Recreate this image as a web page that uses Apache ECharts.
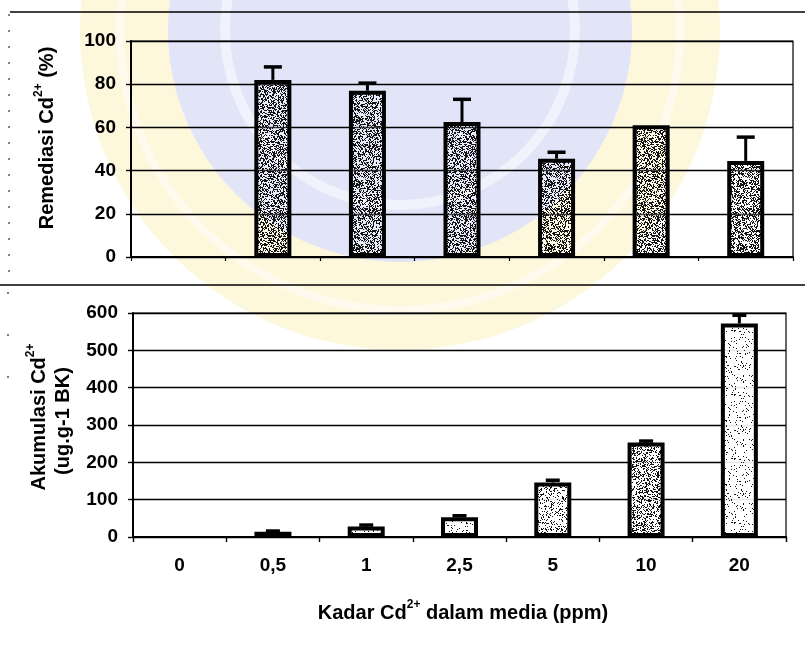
<!DOCTYPE html>
<html>
<head>
<meta charset="utf-8">
<script src="https://cdn.jsdelivr.net/npm/echarts@6/dist/echarts.min.js"></script>
<style>
  html, body { margin: 0; padding: 0; background: #ffffff; }
  #chart { width: 805px; height: 654px; }
</style>
</head>
<body>
<div id="chart"></div>
<script>
// Cd2+ concentration in the medium (ppm)
const categories = ['0', '0,5', '1', '2,5', '5', '10', '20'];

// Cd2+ remediation (%), mean and error
const remediasi = [null, 82, 77, 62.5, 45.5, 61, 44.5];
const remediasiErr = [null, 6, 3.5, 10.5, 3, 0, 11];

// Cd2+ accumulation (ug.g-1 BK), mean and error
const akumulasi = [null, 14, 28, 53, 146, 253, 572];
const akumulasiErr = [null, 2, 4, 4, 6, 4, 22];

// value axis ranges
const remediasiTicks = [0, 20, 40, 60, 80, 100];
const akumulasiTicks = [0, 100, 200, 300, 400, 500, 600];

const FONT = '"Liberation Sans", Arial, Helvetica, sans-serif';

// stippled texture used to fill the bars (deterministic hash, dark dots)
function speckle(density, base) {
  const n = 64;
  const c = document.createElement('canvas');
  c.width = n; c.height = n;
  const ctx = c.getContext('2d');
  ctx.fillStyle = base;
  ctx.fillRect(0, 0, n, n);
  ctx.fillStyle = '#151515';
  for (let y = 0; y < n; y++) {
    for (let x = 0; x < n; x++) {
      let h = Math.imul(x + 11, 374761393) + Math.imul(y + 7, 668265263);
      h = Math.imul(h ^ (h >>> 13), 1274126177);
      h ^= h >>> 16;
      if (((h >>> 0) % 1000) < density * 1000) ctx.fillRect(x, y, 1, 1);
    }
  }
  return { image: c, repeat: 'repeat' };
}

const topFill = speckle(0.46, 'rgba(255,255,255,0.25)');
const bottomDensity = [0, 0.07, 0.08, 0.09, 0.2, 0.36, 0.08];

function errorSeries(values, errs, xIdx, yIdx, capHalf, lw) {
  const data = categories
    .map((c, i) => [i, values[i], errs[i]])
    .filter(d => d[1] != null && d[2] > 0);
  return {
    type: 'custom',
    xAxisIndex: xIdx,
    yAxisIndex: yIdx,
    z: 5,
    silent: true,
    data: data,
    encode: { x: 0, y: 1 },
    renderItem: function (params, api) {
      const i = api.value(0), v = api.value(1), e = api.value(2);
      const base = api.coord([i, v]);
      const top = api.coord([i, v + e]);
      const st = { stroke: '#000', lineWidth: lw, fill: null };
      return {
        type: 'group',
        children: [
          { type: 'line', shape: { x1: base[0], y1: base[1], x2: top[0], y2: top[1] }, style: st },
          { type: 'line', shape: { x1: top[0] - capHalf, y1: top[1], x2: top[0] + capHalf, y2: top[1] }, style: { stroke: '#000', lineWidth: 3.5 } }
        ]
      };
    }
  };
}

const axisLabel = { color: '#000', fontFamily: FONT, fontWeight: 'bold', fontSize: 19 };
const gridLine = { show: true, lineStyle: { color: '#000', width: 1.4 } };
const axisLineStyle = { show: true, lineStyle: { color: '#000', width: 2 } };

const supRich = {
  a: { fontFamily: FONT, fontWeight: 'bold', fontSize: 20, color: '#000', lineHeight: 24, verticalAlign: 'bottom' },
  s: { fontFamily: FONT, fontWeight: 'bold', fontSize: 12, color: '#000', lineHeight: 24, verticalAlign: 'top' }
};

const chart = echarts.init(document.getElementById('chart'), null, { renderer: 'canvas' });

chart.setOption({
  animation: false,
  backgroundColor: '#ffffff',
  grid: [
    { left: 131, top: 41, width: 662, height: 216, show: true, borderColor: '#000', borderWidth: 1.2, backgroundColor: 'transparent' },
    { left: 133, top: 313, width: 653, height: 224, show: true, borderColor: '#000', borderWidth: 1.2, backgroundColor: 'transparent' }
  ],
  xAxis: [
    {
      type: 'category', gridIndex: 0, data: categories, boundaryGap: true,
      axisLine: axisLineStyle,
      axisTick: { show: true, interval: 0, length: 4, lineStyle: { color: '#000', width: 1.2 } },
      axisLabel: { show: false }
    },
    {
      type: 'category', gridIndex: 1, data: categories, boundaryGap: true,
      axisLine: axisLineStyle,
      axisTick: { show: true, interval: 0, length: 5, lineStyle: { color: '#000', width: 1.4 } },
      axisLabel: Object.assign({ margin: 19, interval: 0 }, axisLabel)
    }
  ],
  yAxis: [
    {
      type: 'value', gridIndex: 0,
      min: remediasiTicks[0], max: remediasiTicks[remediasiTicks.length - 1],
      interval: remediasiTicks[1] - remediasiTicks[0],
      axisLine: axisLineStyle,
      axisTick: { show: true, length: 5, lineStyle: { color: '#000', width: 1.4 } },
      splitLine: gridLine,
      axisLabel: Object.assign({ margin: 15 }, axisLabel)
    },
    {
      type: 'value', gridIndex: 1,
      min: akumulasiTicks[0], max: akumulasiTicks[akumulasiTicks.length - 1],
      interval: akumulasiTicks[1] - akumulasiTicks[0],
      axisLine: axisLineStyle,
      axisTick: { show: true, length: 5, lineStyle: { color: '#000', width: 1.4 } },
      splitLine: gridLine,
      axisLabel: Object.assign({ margin: 15 }, axisLabel)
    }
  ],
  series: [
    {
      type: 'bar', xAxisIndex: 0, yAxisIndex: 0,
      data: remediasi,
      barWidth: 37,
      z: 3,
      itemStyle: { color: topFill, borderColor: '#000', borderWidth: 4 }
    },
    {
      type: 'bar', xAxisIndex: 1, yAxisIndex: 1,
      data: akumulasi.map((v, i) => ({
        value: v,
        itemStyle: { color: speckle(bottomDensity[i], 'rgba(255,255,255,0.9)') }
      })),
      barWidth: 37,
      z: 3,
      itemStyle: { borderColor: '#000', borderWidth: 4 }
    },
    errorSeries(remediasi, remediasiErr, 0, 0, 9, 3),
    errorSeries(akumulasi, akumulasiErr, 1, 1, 7, 3)
  ],
  graphic: [
    // faint seal in the page background
    { type: 'circle', z: -100, silent: true, shape: { cx: 400, cy: 30, r: 320 }, style: { fill: '#fdf7dc' } },
    { type: 'circle', z: -99, silent: true, shape: { cx: 400, cy: 30, r: 232 }, style: { fill: '#e2e4f8' } },
    { type: 'circle', z: -98, silent: true, shape: { cx: 400, cy: 30, r: 175 }, style: { fill: 'none', stroke: 'rgba(255,255,255,0.5)', lineWidth: 10 } },
    { type: 'circle', z: -98, silent: true, shape: { cx: 400, cy: 30, r: 280 }, style: { fill: 'none', stroke: 'rgba(255,255,255,0.5)', lineWidth: 8 } },

    // chart-area frame lines
    { type: 'line', z: 1, silent: true, shape: { x1: 10, y1: 12, x2: 805, y2: 12 }, style: { stroke: '#000', lineWidth: 1.5 } },
    { type: 'line', z: 1, silent: true, shape: { x1: 0, y1: 285, x2: 805, y2: 285 }, style: { stroke: '#000', lineWidth: 1.5 } },
    { type: 'line', z: 1, silent: true, shape: { x1: 9, y1: 14, x2: 9, y2: 284 }, style: { stroke: '#000', lineWidth: 1, lineDash: [2, 14] } },
    { type: 'line', z: 1, silent: true, shape: { x1: 8, y1: 292, x2: 8, y2: 400 }, style: { stroke: '#000', lineWidth: 1, lineDash: [2, 40] } },

    // axis titles
    {
      type: 'text', z: 10, silent: true, x: 45, y: 138, rotation: Math.PI / 2,
      style: { text: '{a|Remediasi Cd}{s|2+}{a| (%)}', rich: supRich, align: 'center', verticalAlign: 'middle' }
    },
    {
      type: 'text', z: 10, silent: true, x: 37, y: 417, rotation: Math.PI / 2,
      style: { text: '{a|Akumulasi Cd}{s|2+}', rich: supRich, align: 'center', verticalAlign: 'middle' }
    },
    {
      type: 'text', z: 10, silent: true, x: 61, y: 421, rotation: Math.PI / 2,
      style: { text: '{a|(ug.g-1 BK)}', rich: supRich, align: 'center', verticalAlign: 'middle' }
    },
    {
      type: 'text', z: 10, silent: true, x: 463, y: 611,
      style: { text: '{a|Kadar Cd}{s|2+}{a| dalam media (ppm)}', rich: supRich, align: 'center', verticalAlign: 'middle' }
    }
  ]
});
</script>
</body>
</html>
